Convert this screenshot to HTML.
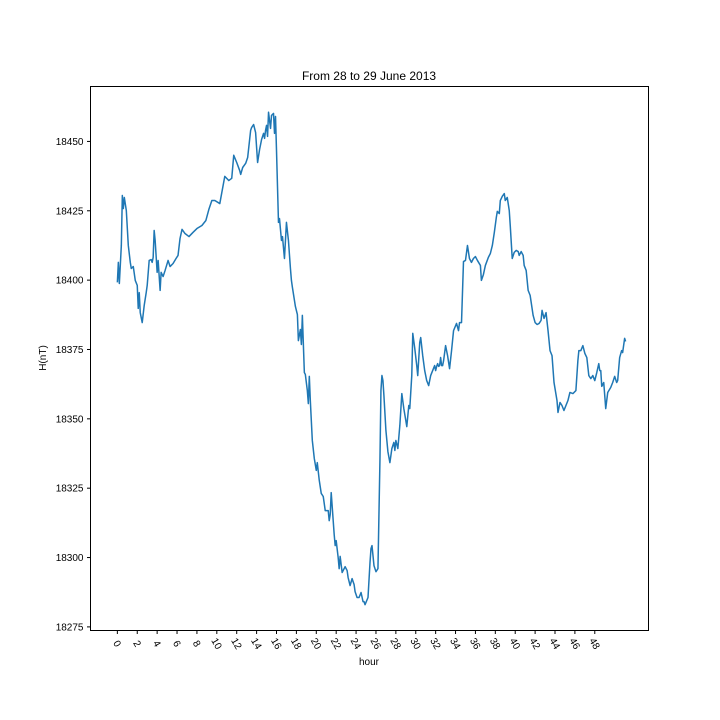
<!DOCTYPE html>
<html><head><meta charset="utf-8"><style>
body{margin:0;background:#fff;}
svg{display:block;font-family:"Liberation Sans","DejaVu Sans",sans-serif;}
</style></head><body>
<svg id="chart" width="720" height="720" viewBox="0 0 720 720">
<rect x="0" y="0" width="720" height="720" fill="#fff"/>
<text x="369" y="80" font-size="12" text-anchor="middle">From 28 to 29 June 2013</text>
<text x="369" y="665" font-size="10" text-anchor="middle">hour</text>
<text transform="translate(46,358) rotate(-90)" font-size="10" text-anchor="middle">H(nT)</text>
<g id="xticks"></g>
<g id="yticks"></g>
<path id="line" fill="none" stroke="#1f77b4" stroke-width="1.5" stroke-linejoin="round"/>
<rect x="90.5" y="86.5" width="558" height="544" fill="none" stroke="#000" stroke-width="1"/>
</svg>
<script>
const xTicks = [0,2,4,6,8,10,12,14,16,18,20,22,24,26,28,30,32,34,36,38,40,42,44,46,48];
const yTicks = [18275,18300,18325,18350,18375,18400,18425,18450];
const hours = [0,0.1,0.2,0.3,0.4,0.5,0.6,0.7,0.9,1.1,1.3,1.4,1.6,1.8,2.0,2.1,2.2,2.3,2.5,2.7,2.9,3.0,3.2,3.4,3.5,3.6,3.7,3.8,4.0,4.1,4.3,4.4,4.6,4.8,5.1,5.3,5.6,5.9,6.1,6.3,6.5,6.8,7.2,7.6,8.0,8.5,8.9,9.2,9.5,9.8,10.3,10.8,11.2,11.5,11.7,12.0,12.3,12.4,12.6,12.9,13.1,13.4,13.5,13.7,13.9,14.1,14.3,14.5,14.7,14.8,14.9,15.0,15.1,15.2,15.4,15.5,15.7,15.8,15.9,16.0,16.2,16.3,16.5,16.6,16.8,17.0,17.2,17.4,17.5,17.6,17.9,18.1,18.2,18.4,18.5,18.6,18.8,18.9,19.1,19.2,19.3,19.4,19.6,19.8,20.0,20.1,20.3,20.5,20.7,20.9,21.2,21.3,21.4,21.5,21.7,21.8,21.9,22.0,22.2,22.3,22.4,22.6,22.9,23.1,23.2,23.4,23.6,23.8,23.9,24.1,24.3,24.5,24.7,24.8,24.9,25.2,25.4,25.5,25.6,25.8,26.0,26.2,26.4,26.5,26.6,26.7,26.8,27.0,27.2,27.4,27.6,27.8,27.9,28.0,28.2,28.4,28.6,28.8,29.0,29.1,29.3,29.4,29.6,29.7,29.9,30.1,30.2,30.4,30.5,30.7,30.9,31.0,31.1,31.3,31.5,31.7,31.9,32.0,32.1,32.2,32.3,32.4,32.5,32.6,32.7,32.8,33.0,33.2,33.4,33.6,33.8,34.1,34.3,34.4,34.6,34.8,35.0,35.2,35.4,35.6,35.8,36.0,36.2,36.5,36.6,36.8,37.0,37.3,37.5,37.7,37.9,38.1,38.2,38.4,38.5,38.7,38.9,39.0,39.2,39.4,39.5,39.7,39.9,40.1,40.3,40.4,40.6,40.8,40.9,41.1,41.3,41.5,41.8,42.0,42.2,42.4,42.6,42.7,42.9,43.1,43.3,43.5,43.7,43.9,44.2,44.3,44.5,44.7,44.9,45.3,45.5,45.8,46.1,46.3,46.4,46.6,46.8,47.0,47.2,47.4,47.6,47.8,48.0,48.2,48.4,48.5,48.6,48.7,48.9,49.0,49.1,49.3,49.6,49.8,50.0,50.2,50.3,50.5,50.7,50.8,51.0,51.1];
const values = [18399.2,18406.4,18398.8,18405.6,18412.5,18430.5,18425.8,18429.8,18425.1,18412.5,18406.4,18404.2,18404.9,18399.9,18398.1,18389.8,18395.5,18388.3,18384.7,18390.9,18395.5,18398.1,18407.1,18407.4,18406.4,18408.2,18417.9,18414.3,18402.8,18407.1,18396.3,18402.8,18401.3,18403.5,18407.1,18404.9,18406.0,18407.8,18408.9,18415.0,18418.3,18416.8,18415.7,18417.2,18418.6,18419.7,18421.5,18425.5,18428.7,18428.7,18427.6,18437.4,18435.9,18436.7,18445.0,18442.4,18439.5,18438.1,18440.6,18442.1,18444.2,18454.0,18455.0,18456.1,18453.2,18442.4,18447.1,18450.7,18452.9,18451.1,18454.0,18455.8,18451.8,18460.5,18454.7,18459.4,18460.1,18452.9,18459.0,18446.8,18420.8,18422.2,18414.3,18415.7,18407.8,18420.8,18414.3,18404.2,18399.9,18397.4,18390.5,18387.6,18378.2,18382.2,18376.8,18387.3,18366.7,18366.0,18360.2,18355.5,18365.3,18356.6,18342.2,18335.7,18331.4,18334.2,18327.8,18323.1,18322.0,18316.9,18316.9,18313.3,18315.5,18323.4,18313.3,18308.3,18304.3,18306.1,18300.0,18296.0,18300.4,18294.6,18296.7,18295.3,18292.8,18289.9,18292.4,18290.3,18287.7,18285.6,18285.6,18287.4,18284.1,18284.1,18283.0,18285.6,18298.2,18303.2,18304.3,18297.1,18294.9,18296.0,18335.0,18360.2,18365.6,18363.8,18358.4,18345.8,18338.2,18334.2,18339.3,18341.5,18338.6,18342.2,18339.3,18347.6,18359.1,18353.7,18349.4,18347.2,18354.8,18353.7,18365.6,18380.8,18375.4,18369.2,18365.6,18377.5,18379.3,18372.8,18367.4,18365.6,18363.8,18362.0,18365.6,18367.4,18369.2,18367.4,18368.9,18369.9,18368.9,18369.2,18372.1,18369.2,18369.2,18371.0,18376.4,18372.8,18368.1,18374.6,18381.8,18384.4,18381.8,18384.7,18384.7,18406.7,18407.1,18412.5,18407.8,18406.4,18407.8,18408.5,18407.1,18405.3,18399.9,18402.0,18405.3,18408.2,18409.6,18412.5,18417.2,18422.6,18424.8,18424.0,18428.7,18430.2,18431.2,18428.7,18429.8,18425.1,18419.7,18407.8,18410.0,18410.7,18410.3,18408.9,18410.3,18408.9,18405.3,18403.5,18396.3,18394.5,18387.3,18384.7,18384.0,18384.4,18385.5,18389.1,18386.2,18388.3,18381.8,18374.6,18372.8,18363.1,18356.6,18352.3,18355.9,18354.8,18353.0,18356.6,18359.5,18359.1,18360.2,18371.0,18374.6,18374.6,18376.4,18373.6,18372.1,18365.6,18364.5,18365.6,18363.8,18366.7,18369.9,18367.4,18367.4,18361.7,18363.1,18358.4,18353.7,18359.5,18361.3,18363.1,18365.3,18363.1,18363.8,18372.1,18374.6,18373.9,18379.0,18377.9,18381.5,18385.5];

const X0=90.5,X1=648.5,Y0=86.5,Y1=630.5;
const xMin=-2.7,xMax=53.4,yMin=18273.7,yMax=18469.8;
function sx(h){return X0+(h-xMin)/(xMax-xMin)*(X1-X0);}
function sy(v){return Y1-(v-yMin)/(yMax-yMin)*(Y1-Y0);}
const NS='http://www.w3.org/2000/svg';
const gx=document.getElementById('xticks'), gy=document.getElementById('yticks');
xTicks.forEach(t=>{
  const x=sx(t);
  const l=document.createElementNS(NS,'line');
  l.setAttribute('x1',x);l.setAttribute('x2',x);l.setAttribute('y1',Y1);l.setAttribute('y2',Y1+3.5);
  l.setAttribute('stroke','#000');
  
  
  gx.appendChild(l);
  const tx=document.createElementNS(NS,'text');
  tx.setAttribute('transform','translate('+x+','+(Y1+13)+') rotate(60)');
  tx.setAttribute('font-size','10');tx.setAttribute('text-anchor','middle');tx.setAttribute('dy','0.35em');
  tx.textContent=t;
  
  
  gx.appendChild(tx);
});
yTicks.forEach(t=>{
  const y=sy(t);
  const l=document.createElementNS(NS,'line');
  l.setAttribute('x1',X0-3.5);l.setAttribute('x2',X0);l.setAttribute('y1',y);l.setAttribute('y2',y);
  l.setAttribute('stroke','#000');
  
  
  gy.appendChild(l);
  const tx=document.createElementNS(NS,'text');
  tx.setAttribute('x',X0-7);tx.setAttribute('y',y+3.5);
  tx.setAttribute('font-size','10');tx.setAttribute('text-anchor','end');
  tx.textContent=t;
  
  
  gy.appendChild(tx);
});
let d='';
hours.forEach((h,i)=>{d+=(i?'L':'M')+sx(h).toFixed(2)+','+sy(values[i]).toFixed(2);});
document.getElementById('line').setAttribute('d',d);
</script>
</body></html>
